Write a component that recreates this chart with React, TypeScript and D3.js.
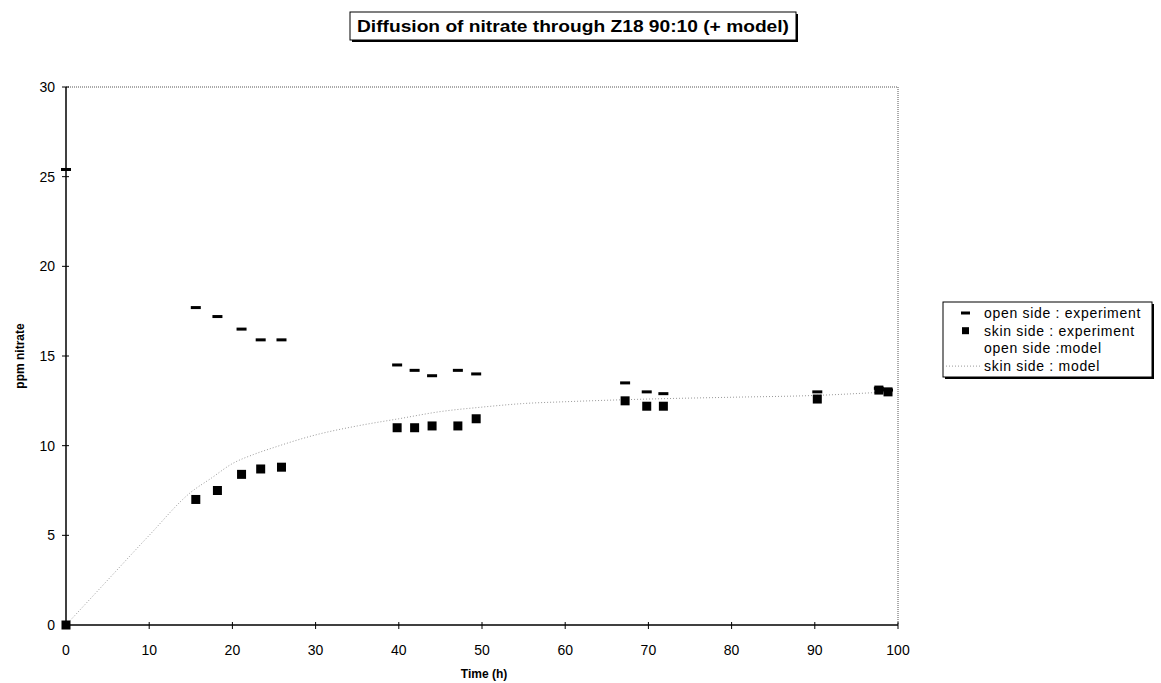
import React, { useRef, useEffect } from 'react';
import * as d3 from 'd3';

// sampling times (h), shared by both experimental series
const times = [0, 15.6, 18.2, 21.1, 23.4, 25.9, 39.8, 41.9, 44.0, 47.1, 49.3, 67.2, 69.8, 71.8, 90.3, 97.7, 98.8];
const openSide = [25.4, 17.7, 17.2, 16.5, 15.9, 15.9, 14.5, 14.2, 13.9, 14.2, 14.0, 13.5, 13.0, 12.9, 13.0, 13.2, 13.1];
const skinSide = [0, 7.0, 7.5, 8.4, 8.7, 8.8, 11.0, 11.0, 11.1, 11.1, 11.5, 12.5, 12.2, 12.2, 12.6, 13.1, 13.0];

// skin side model curve
const modelTime = [0, 5, 10, 15, 17.5, 20, 22.5, 25, 30, 35, 40, 45, 50, 55, 60, 70, 80, 90, 98.8];
const modelPpm = [0, 2.5, 5.0, 7.4, 8.2, 9.0, 9.5, 9.9, 10.6, 11.1, 11.5, 11.9, 12.15, 12.35, 12.45, 12.6, 12.7, 12.8, 13.0];

const xTicks = [0, 10, 20, 30, 40, 50, 60, 70, 80, 90, 100];
const yTicks = [0, 5, 10, 15, 20, 25, 30];
const legendLabels = ['open side : experiment', 'skin side : experiment', 'open side :model', 'skin side : model'];

const title = 'Diffusion of nitrate through Z18 90:10 (+ model)';
const font = '"Liberation Sans", Arial, sans-serif';

const App = () => {
    const ref = useRef(null);

    useEffect(() => {
        const svg = d3.select(ref.current);
        svg.selectAll('*').remove();

        const left = 66, right = 898, top = 87, bottom = 625;
        const x = d3.scaleLinear().domain([0, 100]).range([left, right]);
        const y = d3.scaleLinear().domain([0, 30]).range([bottom, top]);

        // title box with shadow
        svg.append('rect').attr('x', 352).attr('y', 14).attr('width', 446).attr('height', 28).attr('fill', '#000');
        svg.append('rect').attr('x', 350).attr('y', 12).attr('width', 446).attr('height', 28)
            .attr('fill', '#fff').attr('stroke', '#000').attr('stroke-width', 1);
        svg.append('text')
            .attr('x', 357).attr('y', 32)
            .attr('textLength', 432).attr('lengthAdjust', 'spacingAndGlyphs')
            .attr('font-family', font).attr('font-weight', 'bold').attr('font-size', 16)
            .text(title);

        // plot frame: dotted top/right
        svg.append('line').attr('x1', left).attr('x2', right).attr('y1', top).attr('y2', top)
            .attr('stroke', '#555').attr('stroke-dasharray', '1,1');
        svg.append('line').attr('x1', right).attr('x2', right).attr('y1', top).attr('y2', bottom)
            .attr('stroke', '#555').attr('stroke-dasharray', '1,1');

        // axes
        svg.append('line').attr('x1', left).attr('x2', left).attr('y1', top).attr('y2', bottom)
            .attr('stroke', '#000').attr('stroke-width', 1.5);
        svg.append('line').attr('x1', left).attr('x2', right).attr('y1', bottom).attr('y2', bottom)
            .attr('stroke', '#000').attr('stroke-width', 1.5);

        svg.append('g').selectAll('line').data(yTicks).enter().append('line')
            .attr('x1', left - 4).attr('x2', left + 3)
            .attr('y1', d => y(d)).attr('y2', d => y(d))
            .attr('stroke', '#000');
        svg.append('g').selectAll('text').data(yTicks).enter().append('text')
            .attr('x', left - 11).attr('y', d => y(d) + 5)
            .attr('text-anchor', 'end')
            .attr('font-family', font).attr('font-size', 14)
            .text(d => d);

        svg.append('g').selectAll('line').data(xTicks).enter().append('line')
            .attr('x1', d => x(d)).attr('x2', d => x(d))
            .attr('y1', bottom - 3).attr('y2', bottom + 4)
            .attr('stroke', '#000');
        svg.append('g').selectAll('text').data(xTicks).enter().append('text')
            .attr('x', d => x(d)).attr('y', 655)
            .attr('text-anchor', 'middle')
            .attr('font-family', font).attr('font-size', 14)
            .text(d => d);

        svg.append('text')
            .attr('x', 484).attr('y', 678)
            .attr('text-anchor', 'middle')
            .attr('font-family', font).attr('font-weight', 'bold').attr('font-size', 12)
            .text('Time (h)');
        svg.append('text')
            .attr('transform', 'translate(24,356) rotate(-90)')
            .attr('text-anchor', 'middle')
            .attr('font-family', font).attr('font-weight', 'bold').attr('font-size', 12)
            .text('ppm nitrate');

        // model line
        const line = d3.line<number>()
            .x((d, i) => x(modelTime[i]))
            .y(d => y(d))
            .curve(d3.curveMonotoneX);
        svg.append('path')
            .attr('d', line(modelPpm))
            .attr('fill', 'none')
            .attr('stroke', '#999')
            .attr('stroke-width', 1)
            .attr('stroke-dasharray', '1,2');

        // open side dashes
        svg.append('g').selectAll('rect').data(openSide).enter().append('rect')
            .attr('x', (d, i) => x(times[i]) - 5)
            .attr('y', d => y(d) - 1.5)
            .attr('width', 10).attr('height', 3)
            .attr('fill', '#000');

        // skin side squares
        svg.append('g').selectAll('rect').data(skinSide).enter().append('rect')
            .attr('x', (d, i) => x(times[i]) - 4.5)
            .attr('y', d => y(d) - 4.5)
            .attr('width', 9).attr('height', 9)
            .attr('fill', '#000');

        // legend
        const lg = svg.append('g');
        lg.append('rect').attr('x', 945).attr('y', 304).attr('width', 209).attr('height', 75).attr('fill', '#000');
        lg.append('rect').attr('x', 943).attr('y', 302).attr('width', 209).attr('height', 75)
            .attr('fill', '#fff').attr('stroke', '#000');
        const ly = (i: number) => 313 + i * 17.7;
        lg.selectAll('text').data(legendLabels).enter().append('text')
            .attr('x', 984).attr('y', (d, i) => ly(i) + 5)
            .attr('font-family', font).attr('font-size', 14).attr('letter-spacing', 0.7)
            .text(d => d);
        lg.append('rect').attr('x', 961).attr('y', ly(0) - 1.5).attr('width', 9).attr('height', 3).attr('fill', '#000');
        lg.append('rect').attr('x', 962).attr('y', ly(1) - 3.5).attr('width', 7).attr('height', 7).attr('fill', '#000');
        lg.append('line').attr('x1', 946).attr('x2', 980).attr('y1', ly(3)).attr('y2', ly(3))
            .attr('stroke', '#999').attr('stroke-dasharray', '1,2');
    }, []);

    return (
        <svg ref={ref} width="1161" height="683" style={{ position: 'absolute', left: 0, top: 0 }}></svg>
    );
};

export default App;
